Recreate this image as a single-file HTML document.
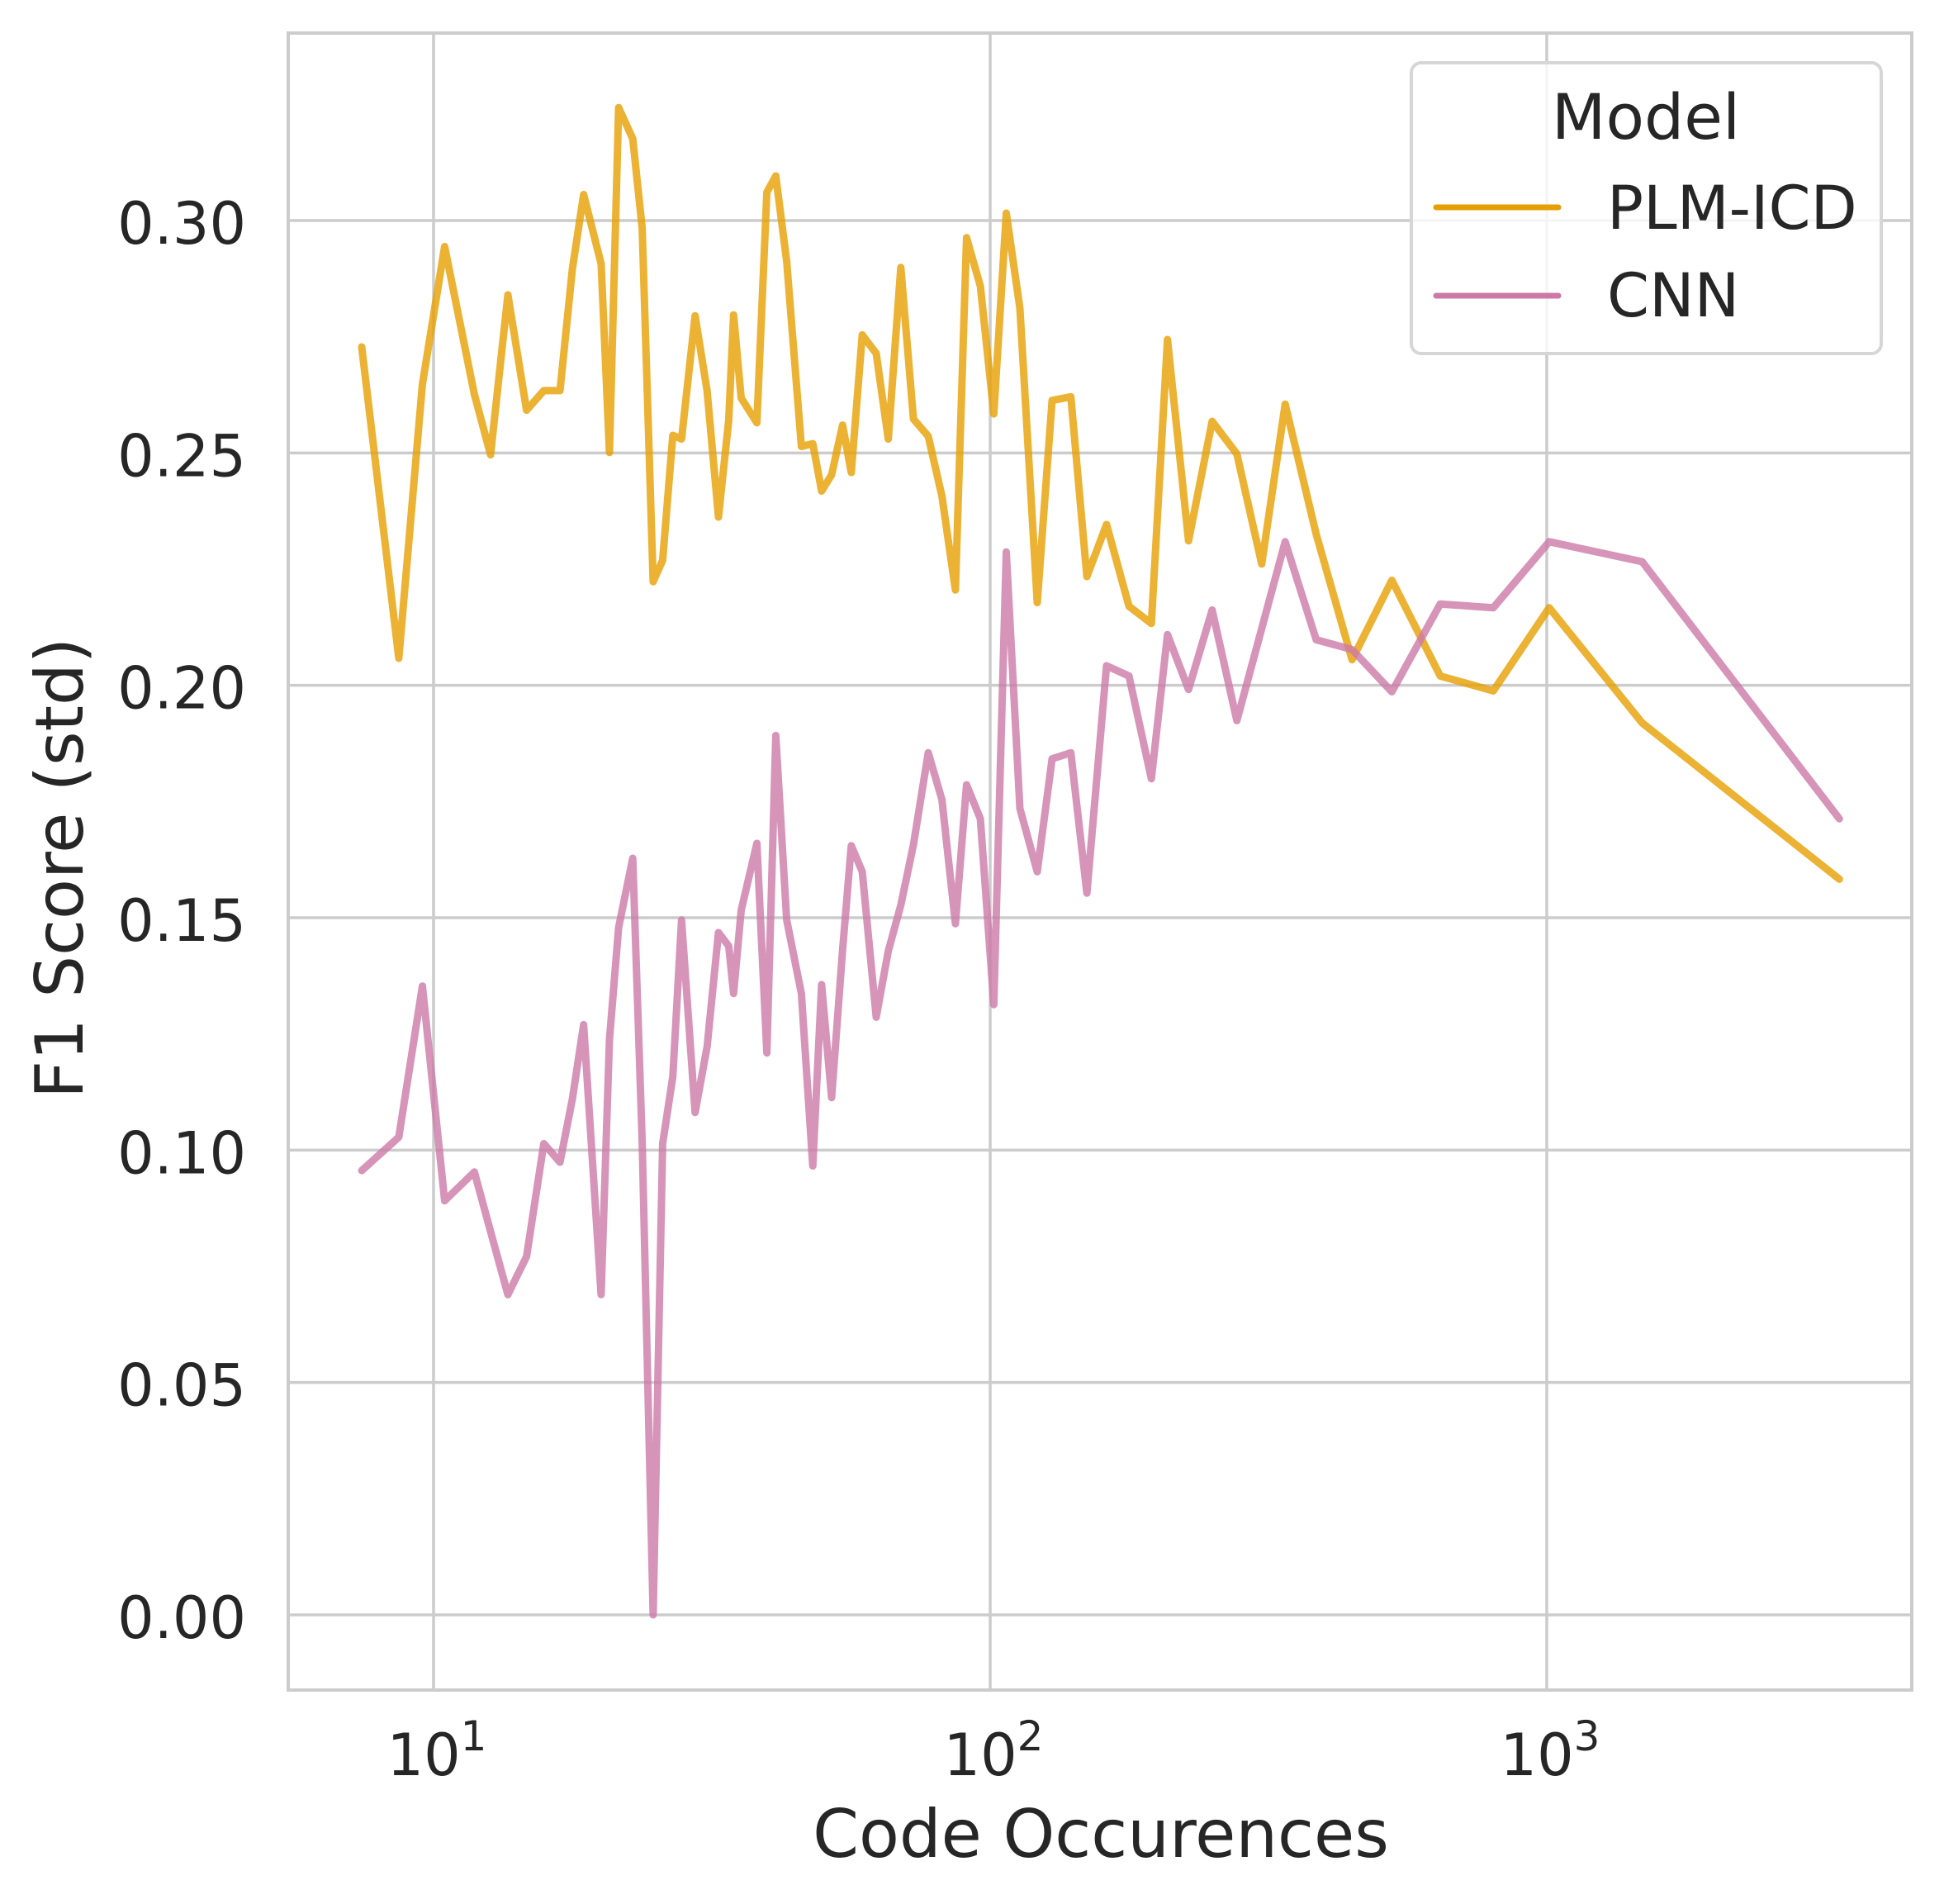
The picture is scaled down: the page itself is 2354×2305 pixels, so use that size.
<!DOCTYPE html>
<html><head><meta charset="utf-8"><style>
html,body{margin:0;padding:0;background:#fff;}
svg{display:block;font-family:"DejaVu Sans","Liberation Sans",sans-serif;}
</style></head><body>
<svg id="chart" width="2354" height="2305" viewBox="0 0 2354 2305" xmlns="http://www.w3.org/2000/svg">
<rect x="0" y="0" width="2354" height="2305" fill="#fff"/>
<g id="grid"></g>
<g id="series"></g>
<rect x="349" y="40" width="1966" height="2006" fill="none" stroke="#cccccc" stroke-width="4"/>
<g id="ticks" fill="#262626" font-size="70"></g>
<text x="1333" y="2248" text-anchor="middle" font-size="80" fill="#262626">Code Occurences</text>
<text transform="translate(100,1051) rotate(-90)" text-anchor="middle" font-size="80" fill="#262626">F1 Score (std)</text>
<g>
<rect x="1709" y="76" width="569" height="352" rx="12" fill="#fff" fill-opacity="0.8" stroke="#d6d6d6" stroke-width="4"/>
<text x="1993" y="168" text-anchor="middle" font-size="76" fill="#262626">Model</text>
<line x1="1739" y1="251" x2="1887" y2="251" stroke="#E69F00" stroke-width="7" stroke-linecap="round"/>
<text x="1946" y="277" font-size="73" fill="#262626">PLM-ICD</text>
<line x1="1739" y1="358" x2="1887" y2="358" stroke="#CC79A7" stroke-width="7" stroke-linecap="round"/>
<text x="1946" y="383" font-size="73" fill="#262626">CNN</text>
</g>
</svg>
<script>
const occurrences = [7.43,8.66,9.55,10.47,11.84,12.66,13.6,14.69,15.78,16.87,17.76,18.6,20.0,20.7,21.5,22.8,23.7,24.8,25.8,26.9,27.9,29.5,31.0,32.5,33.9,34.6,35.7,38.1,39.7,41.2,43.1,45.8,48.0,49.8,51.9,54.3,56.3,58.9,62.4,65.6,69.1,72.8,77.4,81.9,86.6,90.7,96.0,101.5,106.9,113.1,121.5,129.2,139.6,149.2,161.8,177.6,194.8,208.2,227.2,250.5,277.4,307.5,338.8,385.2,446.9,526.8,643.5,801.8,1010,1484,3355];
const plmIcd = [0.2728,0.2058,0.2648,0.2944,0.2626,0.2496,0.284,0.2592,0.2634,0.2634,0.2896,0.3056,0.2907,0.2501,0.3243,0.3176,0.2984,0.2223,0.2269,0.2538,0.2530,0.2795,0.2634,0.2362,0.2570,0.2797,0.2618,0.2565,0.3061,0.3096,0.2912,0.2514,0.2520,0.2418,0.2453,0.2560,0.2458,0.2754,0.2714,0.2530,0.2899,0.2573,0.2536,0.2407,0.2205,0.2963,0.2859,0.2584,0.3016,0.2811,0.2178,0.2613,0.2621,0.2234,0.2346,0.2170,0.2133,0.2744,0.2311,0.2568,0.2498,0.2261,0.2605,0.2325,0.2055,0.2226,0.2020,0.1988,0.2167,0.1919,0.1583];
const cnn = [0.0956,0.1028,0.1353,0.0891,0.0953,0.0825,0.0689,0.0771,0.1014,0.0974,0.1110,0.1270,0.0689,0.1238,0.1479,0.1628,0.1020,0.0,0.1014,0.1158,0.1495,0.1081,0.1222,0.1468,0.1439,0.1337,0.1516,0.1660,0.1209,0.1892,0.1495,0.1337,0.0966,0.1356,0.1113,0.1431,0.1655,0.1599,0.1286,0.1428,0.1527,0.1657,0.1855,0.1754,0.1487,0.1786,0.1713,0.1313,0.2287,0.1735,0.1599,0.1842,0.1855,0.1553,0.2042,0.2020,0.1799,0.2109,0.1991,0.2162,0.1924,0.2122,0.2309,0.2098,0.2077,0.1986,0.2175,0.2167,0.2309,0.2266,0.1713];
const yTicks = [0.00,0.05,0.10,0.15,0.20,0.25,0.30];
const yTickLabels = ["0.00","0.05","0.10","0.15","0.20","0.25","0.30"];
const xTickExps = [1,2,3];

const NS = "http://www.w3.org/2000/svg";
function xPos(v){ return 525 + (Math.log10(v) - 1) * 674; }
function yPos(v){ return 1955 - v / 0.30 * (1955 - 267); }
function mk(tag, attrs, parent){ const e = document.createElementNS(NS, tag); for (const k in attrs) e.setAttribute(k, attrs[k]); parent.appendChild(e); return e; }

const grid = document.getElementById('grid');
const ticks = document.getElementById('ticks');
yTicks.forEach((t, i) => {
  const y = yPos(t);
  const gl = mk('line', {x1: 349, x2: 2315, y1: y, y2: y, stroke: '#cccccc', 'stroke-width': 3.5}, grid);
  
  
  const tx = mk('text', {x: 298, y: y + 28, 'text-anchor': 'end'}, ticks);
  tx.textContent = yTickLabels[i];
  
  
});
xTickExps.forEach(e => {
  const x = xPos(Math.pow(10, e));
  const gl = mk('line', {x1: x, x2: x, y1: 40, y2: 2046, stroke: '#cccccc', 'stroke-width': 3.5}, grid);
  
  
  const tx = mk('text', {x: x + 4, y: 2149, 'text-anchor': 'middle'}, ticks);
  
  
  const base = document.createElementNS(NS, 'tspan');
  base.textContent = '10';
  tx.appendChild(base);
  const sup = document.createElementNS(NS, 'tspan');
  sup.setAttribute('dy', '-30');
  sup.setAttribute('font-size', '50');
  sup.textContent = String(e);
  tx.appendChild(sup);
});

const series = document.getElementById('series');
function drawLine(values, color, name){
  const d = values.map((v, i) => (i ? 'L' : 'M') + xPos(occurrences[i]).toFixed(1) + ',' + yPos(v).toFixed(1)).join(' ');
  const p = mk('path', {d: d, fill: 'none', stroke: color, 'stroke-width': 9, 'stroke-opacity': 0.8, 'stroke-linejoin': 'round', 'stroke-linecap': 'round'}, series);
  
  
}
drawLine(plmIcd, '#E69F00', 'plm-icd-line');
drawLine(cnn, '#CC79A7', 'cnn-line');
</script>
</body></html>
